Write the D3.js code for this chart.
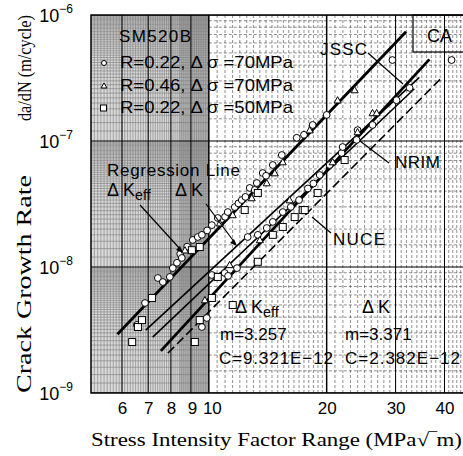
<!DOCTYPE html>
<html>
<head>
<meta charset="utf-8">
<script src="https://cdn.jsdelivr.net/npm/d3@7"></script>
<style>
body { margin: 0; background: #fff; }
text { font-family: "Liberation Sans", Arial, sans-serif; fill: #000; }
.serif { font-family: "Liberation Serif", "Times New Roman", serif; }
</style>
</head>
<body>
<svg width="463" height="456"></svg>
<script>
// axis ticks
var xTicks = [6, 7, 8, 9, 10, 20, 30, 40];
var yTicks = [1e-9, 1e-8, 1e-7, 1e-6];
var yTickExp = ["9", "8", "7", "6"];

// data points [dK, da/dN]
var circles = [
    [6.55, 3.47e-9], [6.87, 5.18e-9], [7.41, 8.18e-9], [7.63, 7.6e-9], [7.95, 8.34e-9], [8.09, 9.8e-9],
    [8.29, 1.08e-8], [8.45, 1.27e-8], [8.53, 1.18e-8], [8.8, 1.45e-8], [9.1, 1.64e-8], [9.37, 1.73e-8],
    [9.6, 1.8e-8], [9.9, 1.95e-8], [10.18, 2.15e-8], [10.54, 2.45e-8], [11.0, 2.5e-8], [11.18, 2.73e-8],
    [11.65, 2.99e-8], [11.9, 3.2e-8], [12.14, 3.4e-8], [12.4, 3.6e-8], [12.72, 4.24e-8], [13.1, 4.09e-8],
    [13.26, 4.64e-8], [13.73, 5.57e-8], [14.0, 5.3e-8], [14.57, 6.45e-8], [15.36, 7.74e-8], [16.77, 1.06e-7],
    [17.5, 1.12e-7], [18.42, 1.34e-7], [20.0, 1.61e-7], [29.45, 4.39e-7], [41.7, 4.39e-7],
    [9.6, 3.34e-9], [9.88, 3.94e-9], [10.18, 8.64e-9], [10.98, 8.96e-9], [11.2, 8.5e-9], [11.8, 9.8e-9],
    [12.57, 1.73e-8], [13.34, 1.8e-8], [14.06, 2.04e-8], [14.57, 2.28e-8], [15.45, 2.73e-8], [16.2, 3.0e-8],
    [17.0, 3.4e-8], [17.9, 4.2e-8], [18.5, 4.6e-8], [19.2, 5.37e-8], [20.36, 6.45e-8], [21.84, 8.03e-8],
    [21.97, 8.96e-8], [23.85, 1.02e-7], [23.99, 1.22e-7], [26.2, 1.34e-7], [30.17, 2.11e-7], [32.57, 2.64e-7]
];
var triangles = [
    [8.69, 1.36e-8], [10.67, 2.23e-8], [11.51, 2.59e-8], [12.87, 3.53e-8], [14.06, 4.64e-8], [14.74, 5.57e-8],
    [15.45, 6.81e-8], [18.1, 1.22e-7], [21.33, 2.11e-7], [23.57, 2.54e-7],
    [9.77, 5.47e-9], [11.3, 1.04e-8], [13.5, 1.64e-8], [16.09, 3.4e-8], [20.72, 6.81e-8], [23.99, 1.18e-7],
    [26.2, 1.67e-7], [26.83, 1.67e-7]
];
var squares = [
    [6.37, 2.54e-9], [6.59, 3.34e-9], [6.75, 3.79e-9], [7.16, 5.68e-9], [9.05, 1.36e-8], [9.48, 1.44e-8],
    [12.35, 2.83e-8], [13.34, 3.87e-8],
    [9.21, 2.54e-9], [9.48, 3.79e-9], [10.18, 5.68e-9], [10.54, 8.34e-9], [11.51, 4.99e-9], [13.34, 1.1e-8],
    [14.57, 1.8e-8], [15.45, 2.08e-8], [16.57, 2.49e-8], [17.37, 2.83e-8], [17.58, 2.83e-8], [18.97, 3.87e-8],
    [22.23, 7.06e-8]
];

// regression lines da/dN = C dK^m
var regressions = [
    {name: "dKeff", C: 9.321e-12, m: 3.257, from: 5.84, to: 31.9},
    {name: "dK", C: 2.382e-12, m: 3.371, from: 7.54, to: 36.6}
];
// reference curves, end points
var refLines = [
    {name: "JSSC", pts: [[6.9, 3.16e-9], [34.5, 3.2e-7]], dash: null},
    {name: "NRIM", pts: [[7.19, 2.78e-9], [33.5, 2.6e-7]], dash: null},
    {name: "NUCE", pts: [[7.86, 2.07e-9], [39.5, 3.22e-7]], dash: "9,4"}
];

var svg = d3.select("svg");
var pLeft = 91, pRight = 463, pTop = 15, pBottom = 393;

var x = d3.scaleLog().domain([5, 44.6]).range([pLeft, pRight]);
var y = d3.scaleLog().domain([1e-9, 1e-6]).range([pBottom, pTop]);

var plot = svg.append("g");
plot.append("defs").append("clipPath").attr("id", "clip")
    .append("rect").attr("x", pLeft).attr("y", pTop).attr("width", pRight - pLeft).attr("height", pBottom - pTop);

// SHADED REGION (dK < 10)
plot.append("rect")
    .attr("x", x(5)).attr("y", pTop)
    .attr("width", x(10) - x(5)).attr("height", pBottom - pTop)
    .attr("fill", "#dadada");
plot.append("rect")
    .attr("x", x(8.4)).attr("y", pTop)
    .attr("width", x(10) - x(8.4)).attr("height", pBottom - pTop)
    .attr("fill", "#b8b8b8");

// GRID
var grid = plot.append("g").attr("clip-path", "url(#clip)");
var fineX = d3.range(5.1, 10, 0.1);
grid.selectAll(".fx").data(fineX).enter().append("line")
    .attr("x1", d => x(d)).attr("x2", d => x(d)).attr("y1", pTop).attr("y2", pBottom)
    .attr("stroke", "#7a7a7a").attr("stroke-width", 0.6);
var fineY = [];
yTicks.slice(0, 3).forEach(function(dec) {
    d3.range(1.2, 10, 0.2).forEach(function(m) { fineY.push(dec * m); });
});
grid.selectAll(".fy").data(fineY).enter().append("line")
    .attr("x1", pLeft).attr("x2", x(10)).attr("y1", d => y(d)).attr("y2", d => y(d))
    .attr("stroke", "#7a7a7a").attr("stroke-width", 0.6);

var minorX = d3.range(10.5, 20, 0.5).concat(d3.range(21, 45, 1));
grid.selectAll(".mx").data(minorX).enter().append("line")
    .attr("x1", d => x(d)).attr("x2", d => x(d)).attr("y1", pTop).attr("y2", pBottom)
    .attr("stroke", "#444").attr("stroke-width", 0.6).attr("stroke-dasharray", "3,2");
var minorY = [];
yTicks.slice(0, 3).forEach(function(dec) {
    [1.5, 2, 3, 4, 5, 6, 7, 8, 9].forEach(function(m) { minorY.push(dec * m); });
});
grid.selectAll(".my").data(minorY).enter().append("line")
    .attr("x1", x(10)).attr("x2", pRight).attr("y1", d => y(d)).attr("y2", d => y(d))
    .attr("stroke", "#444").attr("stroke-width", 0.6).attr("stroke-dasharray", "3,2");

grid.selectAll(".majx").data(xTicks).enter().append("line")
    .attr("x1", d => x(d)).attr("x2", d => x(d)).attr("y1", pTop).attr("y2", pBottom)
    .attr("stroke", "#000").attr("stroke-width", d => d == 10 || d == 20 ? 1.5 : 1);
grid.selectAll(".majy").data(yTicks).enter().append("line")
    .attr("x1", pLeft).attr("x2", pRight).attr("y1", d => y(d)).attr("y2", d => y(d))
    .attr("stroke", "#000").attr("stroke-width", 1.2);

// frame
svg.append("path")
    .attr("d", "M" + pRight + "," + pTop + "H" + pLeft + "V" + pBottom + "H" + pRight)
    .attr("fill", "none").attr("stroke", "#000").attr("stroke-width", 1.5);

// AXES LABELS
var xAxis = d3.axisBottom(x).tickValues(xTicks).tickFormat(d3.format("d")).tickSize(0).tickPadding(5);
var gx = svg.append("g").attr("transform", "translate(0," + pBottom + ")").call(xAxis);
gx.select(".domain").remove();
gx.selectAll("text").attr("font-size", 17).attr("font-family", "Liberation Sans, Arial, sans-serif")
    .attr("fill", "#000").attr("dy", "0.95em")
    .attr("dx", d => d == 9 ? 1 : (d == 10 ? 3 : 0));

var yLab = svg.append("g").selectAll("text").data(yTicks).enter().append("text")
    .attr("x", 73).attr("y", d => y(d) + 7)
    .attr("text-anchor", "end").attr("font-size", 18);
yLab.append("tspan").text("10");
yLab.append("tspan").attr("dy", -9).attr("font-size", 12).text((d, i) => "\u2212" + yTickExp[i]);

svg.append("text").attr("class", "serif")
    .attr("x", 91).attr("y", 446).attr("font-size", 18)
    .attr("textLength", 371).attr("lengthAdjust", "spacingAndGlyphs")
    .text("Stress Intensity Factor Range  (MPa\u221A\u203Em)");

var yt = svg.append("g").attr("transform", "translate(31,0) rotate(-90)");
yt.append("text").attr("class", "serif")
    .attr("x", -393).attr("y", 0).attr("font-size", 20)
    .attr("textLength", 218).attr("lengthAdjust", "spacingAndGlyphs")
    .text("Crack Growth Rate");
yt.append("text").attr("class", "serif")
    .attr("x", -121).attr("y", 0).attr("font-size", 19)
    .attr("textLength", 106).attr("lengthAdjust", "spacingAndGlyphs")
    .text("da/dN (m/cycle)");

// LINES
var lines = svg.append("g").attr("clip-path", "url(#clip)");
var line = d3.line().x(d => x(d[0])).y(d => y(d[1]));
lines.selectAll(".reg").data(regressions).enter().append("path")
    .attr("d", d => line([[d.from, d.C * Math.pow(d.from, d.m)], [d.to, d.C * Math.pow(d.to, d.m)]]))
    .attr("stroke", "#000").attr("stroke-width", 2.8).attr("fill", "none");
lines.selectAll(".ref").data(refLines).enter().append("path")
    .attr("d", d => line(d.pts))
    .attr("stroke", "#000").attr("stroke-width", 1.6).attr("fill", "none")
    .attr("stroke-dasharray", d => d.dash);

// MARKERS
var marks = svg.append("g").attr("clip-path", "url(#clip)");
marks.selectAll(".c").data(circles).enter().append("circle")
    .attr("cx", d => x(d[0])).attr("cy", d => y(d[1])).attr("r", 3.4)
    .attr("fill", "#fff").attr("stroke", "#000").attr("stroke-width", 1);
marks.selectAll(".t").data(triangles).enter().append("path")
    .attr("transform", d => "translate(" + x(d[0]) + "," + y(d[1]) + ")")
    .attr("d", "M0,-3.5L3.5,2.8L-3.5,2.8Z")
    .attr("fill", "#fff").attr("stroke", "#000").attr("stroke-width", 1);
marks.selectAll(".s").data(squares).enter().append("rect")
    .attr("x", d => x(d[0]) - 3.5).attr("y", d => y(d[1]) - 3.5).attr("width", 7).attr("height", 7)
    .attr("fill", "#fff").attr("stroke", "#000").attr("stroke-width", 1);

// ANNOTATIONS
var ann = svg.append("g");
ann.append("text").attr("x", 119).attr("y", 42).attr("font-size", 17).attr("textLength", 72).text("SM520B");
var legendRows = [
    {sym: "c", label: "R=0.22, \u0394 \u03C3 =70MPa", y: 68},
    {sym: "t", label: "R=0.46, \u0394 \u03C3 =70MPa", y: 91},
    {sym: "s", label: "R=0.22, \u0394 \u03C3 =50MPa", y: 113}
];
legendRows.forEach(function(r) {
    ann.append("text").attr("x", 120).attr("y", r.y).attr("font-size", 17)
        .attr("textLength", 173).attr("lengthAdjust", "spacingAndGlyphs").text(r.label);
    if (r.sym == "c") ann.append("circle").attr("cx", 104).attr("cy", r.y - 5).attr("r", 2.5).attr("fill", "#fff").attr("stroke", "#000");
    if (r.sym == "t") ann.append("path").attr("d", "M104," + (r.y - 8) + "l3,5h-6z").attr("fill", "#fff").attr("stroke", "#000");
    if (r.sym == "s") ann.append("rect").attr("x", 100.5).attr("y", r.y - 8).attr("width", 6).attr("height", 6).attr("fill", "#fff").attr("stroke", "#000");
});

// CA box
ann.append("rect").attr("x", 413).attr("y", 15).attr("width", 52).attr("height", 37)
    .attr("fill", "none").attr("stroke", "#000").attr("stroke-width", 1.2);
ann.append("text").attr("x", 427).attr("y", 42).attr("font-size", 18).text("CA");

ann.append("text").attr("x", 320).attr("y", 55).attr("font-size", 17).attr("textLength", 47).text("JSSC");
ann.append("line").attr("x1", 368).attr("y1", 53).attr("x2", 403).attr("y2", 84).attr("stroke", "#000").attr("stroke-width", 1.2);
ann.append("text").attr("x", 395).attr("y", 168).attr("font-size", 17).attr("textLength", 45).text("NRIM");
ann.append("line").attr("x1", 389).attr("y1", 163).attr("x2", 360).attr("y2", 141).attr("stroke", "#000").attr("stroke-width", 1.2);
ann.append("text").attr("x", 333).attr("y", 245).attr("font-size", 17).attr("textLength", 52).text("NUCE");
ann.append("line").attr("x1", 331).attr("y1", 233).attr("x2", 312).attr("y2", 217).attr("stroke", "#000").attr("stroke-width", 1.2);

ann.append("text").attr("x", 107).attr("y", 176).attr("font-size", 17).attr("textLength", 133).text("Regression Line");
function deltaK(g, xx, yy, sub, size) {
    var t = g.append("text").attr("x", xx).attr("y", yy).attr("font-size", size);
    t.append("tspan").text("\u0394 K");
    if (sub) t.append("tspan").attr("dy", 4).attr("font-size", size * 0.8).text("eff");
}
deltaK(ann, 107, 196, true, 18);
deltaK(ann, 175, 196, false, 18);
ann.append("line").attr("x1", 140).attr("y1", 205).attr("x2", 181).attr("y2", 250).attr("stroke", "#000").attr("stroke-width", 1.2);
ann.append("path").attr("d", "M183,253l-7,-3l4,-4z").attr("fill", "#000");
ann.append("line").attr("x1", 206).attr("y1", 204).attr("x2", 235).attr("y2", 243).attr("stroke", "#000").attr("stroke-width", 1.2);
ann.append("path").attr("d", "M237,246l-7,-3l4,-4z").attr("fill", "#000");

deltaK(ann, 235, 313, true, 18);
ann.append("text").attr("x", 220).attr("y", 340).attr("font-size", 17).text("m=3.257");
ann.append("text").attr("x", 219).attr("y", 364).attr("font-size", 17).attr("textLength", 114).text("C=9.321E\u221212");
deltaK(ann, 362, 313, false, 18);
ann.append("text").attr("x", 345).attr("y", 340).attr("font-size", 17).text("m=3.371");
ann.append("text").attr("x", 345).attr("y", 364).attr("font-size", 17).attr("textLength", 115).text("C=2.382E\u221212");
</script>
</body>
</html>
